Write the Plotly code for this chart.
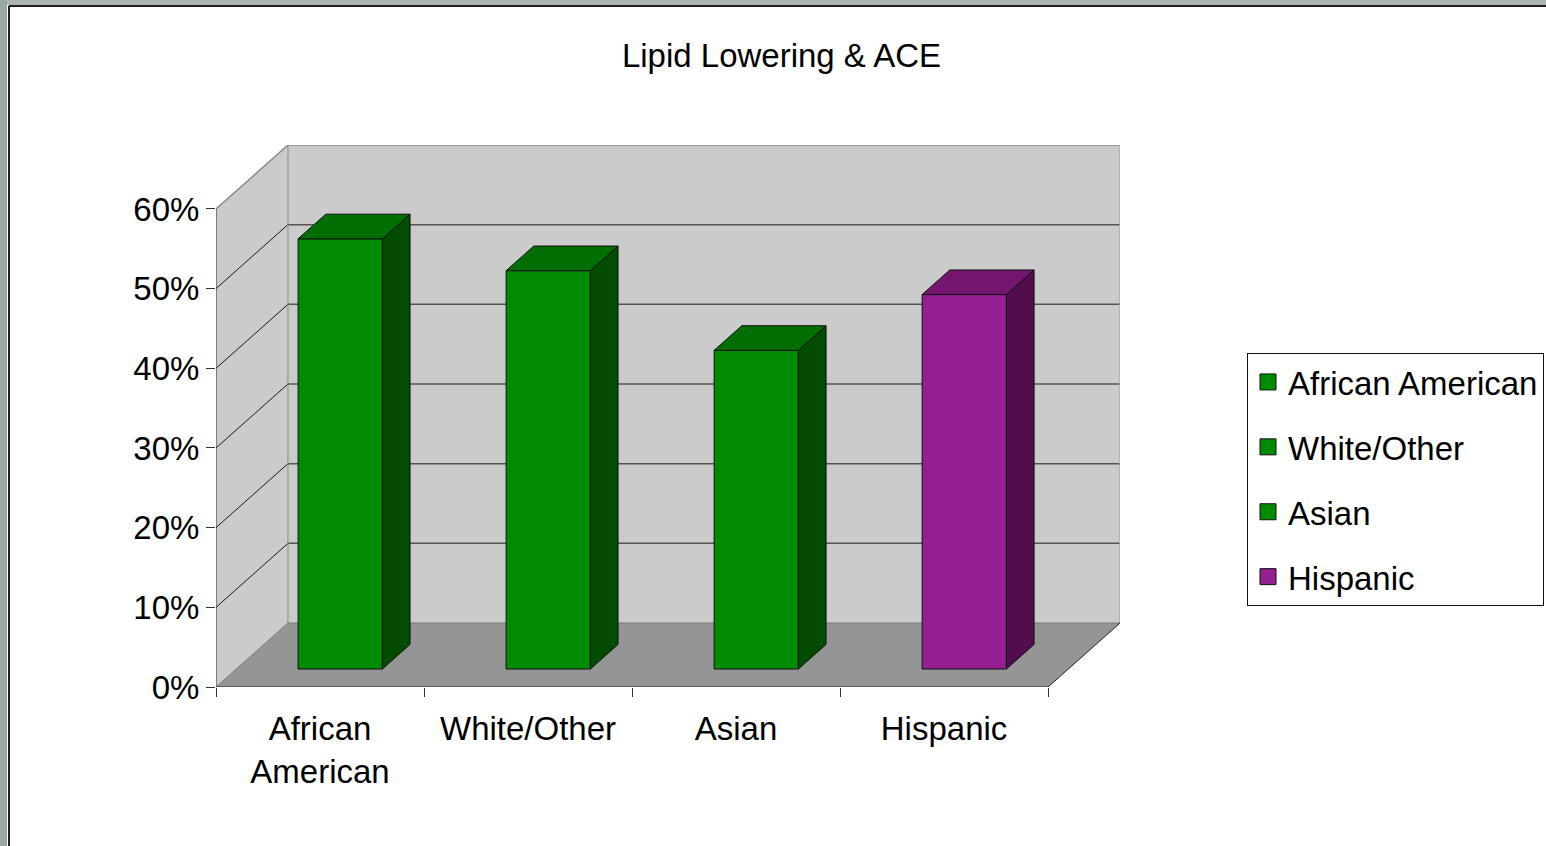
import plotly.graph_objects as go

# Data
categories = ["African American", "White/Other", "Asian", "Hispanic"]
tick_labels = ["African<br>American", "White/Other", "Asian", "Hispanic"]
values = [0.54, 0.50, 0.40, 0.47]
y_ticks = [0.0, 0.1, 0.2, 0.3, 0.4, 0.5, 0.6]

# Colours: front / top / side faces
front_cols = ["#008C00", "#008C00", "#008C00", "#931F91"]
top_cols = ["#006E00", "#006E00", "#006E00", "#74166F"]
side_cols = ["#004D00", "#004D00", "#004D00", "#520D4E"]

FONT = "Liberation Sans, Arial, sans-serif"
FS = 33

# Layout geometry (pixels)
W, H = 1546, 846
L, R, T, B = 216, 426, 145, 159
cat_px = 208.15
val_px = 797.2
depth_dx_px, depth_dy_px = 72, 64

# Oblique depth offset expressed in data units
dxu = depth_dx_px / cat_px
dyu = depth_dy_px / val_px
ymax = max(y_ticks)
n = len(categories)

# Bar depth placement (fraction of the floor depth) and width
d0, dd = 0.281, 0.385
bw = 0.405

fig = go.Figure()
shapes = []


def wall(xs, ys, fill):
    path = "M " + " L ".join(f"{x},{y}" for x, y in zip(xs, ys)) + " Z"
    shapes.append(dict(type="path", xref="x", yref="y", path=path, layer="below",
                       fillcolor=fill, line=dict(width=0)))


def edge(xs, ys, col, w=1):
    shapes.append(dict(type="line", xref="x", yref="y", layer="below",
                       x0=xs[0], x1=xs[1], y0=ys[0], y1=ys[1],
                       line=dict(color=col, width=w)))


def face(xs, ys, fill):
    fig.add_trace(go.Scatter(
        x=xs + [xs[0]], y=ys + [ys[0]], mode="lines", fill="toself",
        fillcolor=fill, line=dict(color="#111111", width=1),
        hoverinfo="skip", showlegend=False))


# Back wall, side wall and floor
wall([dxu, n + dxu, n + dxu, dxu], [dyu, dyu, ymax + dyu, ymax + dyu], "#CBCBCB")
wall([0, dxu, dxu, 0], [0, dyu, ymax + dyu, ymax], "#CBCBCB")
wall([0, n, n + dxu, dxu], [0, 0, dyu, dyu], "#959595")

# Gridlines on the back wall and the side wall
for v in y_ticks[1:-1]:
    edge([dxu, n + dxu], [v + dyu, v + dyu], "#555555", 1.5)
    edge([0, dxu], [v, v + dyu], "#1a1a1a", 1)

# Wall edges
edge([dxu, n + dxu], [ymax + dyu, ymax + dyu], "#8a8a8a", 1.5)
edge([n + dxu, n + dxu], [dyu, ymax + dyu], "#aaaaaa", 1.5)
edge([0, dxu], [ymax, ymax + dyu], "#8a8a8a", 1.5)
edge([dxu, dxu], [dyu, ymax + dyu], "#8a8a8a", 1)
edge([0, dxu], [0, dyu], "#7a7a7a", 1)
edge([dxu, n + dxu], [dyu, dyu], "#7a7a7a", 1)
edge([n, n + dxu], [0, dyu], "#222222", 1)
edge([0, n], [0, 0], "#222222", 1.2)
edge([0, 0], [0, ymax], "#333333", 1)

# 3D bars: front face as a bar, top and side faces as polygons
for i, (cat, v) in enumerate(zip(categories, values)):
    xc = i + 0.5 + d0 * dxu
    base = d0 * dyu
    x0, x1 = xc - bw / 2, xc + bw / 2
    y0, y1 = base, base + v
    ox, oy = dd * dxu, dd * dyu
    fig.add_trace(go.Bar(x=[xc], y=[v], base=[base], width=[bw],
                         marker=dict(color=front_cols[i], line=dict(color="#111111", width=1)),
                         hoverinfo="skip", showlegend=False))
    face([x1, x1 + ox, x1 + ox, x1], [y0, y0 + oy, y1 + oy, y1], side_cols[i])
    face([x0, x1, x1 + ox, x0 + ox], [y1, y1, y1 + oy, y1 + oy], top_cols[i])

# Legend entries
for i, cat in enumerate(categories):
    fig.add_trace(go.Scatter(
        x=[None], y=[None], mode="markers", name=cat, legendgroup=cat,
        marker=dict(symbol="square", size=16, color=front_cols[i],
                    line=dict(color="#111111", width=1))))

# Slide background strips along the top and left edges
pw, ph = W - L - R, H - T - B
shapes += [
    dict(type="rect", xref="paper", yref="paper", layer="below",
         x0=-L / pw, x1=(W - L) / pw, y0=(H - B - 5) / ph, y1=(H - B) / ph,
         fillcolor="#A9B5AE", line=dict(width=0)),
    dict(type="rect", xref="paper", yref="paper", layer="below",
         x0=-L / pw, x1=(-L + 7) / pw, y0=-B / ph, y1=(H - B) / ph,
         fillcolor="#9AA8A6", line=dict(width=0)),
    dict(type="line", xref="paper", yref="paper", layer="below",
         x0=(-L + 9) / pw, x1=(W - L) / pw, y0=(H - B - 6) / ph, y1=(H - B - 6) / ph,
         line=dict(color="#222222", width=2)),
    dict(type="line", xref="paper", yref="paper", layer="below",
         x0=(-L + 9) / pw, x1=(-L + 9) / pw, y0=-B / ph, y1=(H - B - 6) / ph,
         line=dict(color="#222222", width=2)),
]

fig.update_layout(
    width=W, height=H,
    margin=dict(l=L, r=R, t=T, b=B, pad=0),
    paper_bgcolor="white", plot_bgcolor="white",
    font=dict(family=FONT, size=FS, color="black"),
    title=dict(text="Lipid Lowering & ACE", x=781.5 / W, xanchor="center",
               y=1 - 55 / H, yanchor="middle", font=dict(size=FS)),
    barmode="overlay",
    showlegend=True,
    shapes=shapes,
    legend=dict(xref="container", yref="container", x=1247 / W, y=1 - 353 / H,
                xanchor="left", yanchor="top", bordercolor="#111111", borderwidth=1,
                bgcolor="white", font=dict(size=FS), traceorder="grouped",
                tracegroupgap=19, itemsizing="trace"),
    xaxis=dict(range=[0, n + dxu], showgrid=False, zeroline=False, showline=False,
               tickvals=[i + 0.5 for i in range(n)], ticktext=tick_labels,
               ticks="", tickfont=dict(size=FS), ticklabelstandoff=19,
               minor=dict(tickvals=list(range(n + 1)), ticks="outside", ticklen=9,
                          tickcolor="#333333", tickwidth=1, showgrid=False),
               fixedrange=True),
    yaxis=dict(range=[0, ymax + dyu], showgrid=False, zeroline=False, showline=False,
               tickvals=y_ticks, ticktext=[f"{int(round(t * 100))}%" for t in y_ticks],
               ticks="outside", ticklen=9, tickcolor="#333333", tickwidth=1,
               tickfont=dict(size=FS), ticklabelstandoff=0, fixedrange=True),
)

fig.write_html("out.html")
